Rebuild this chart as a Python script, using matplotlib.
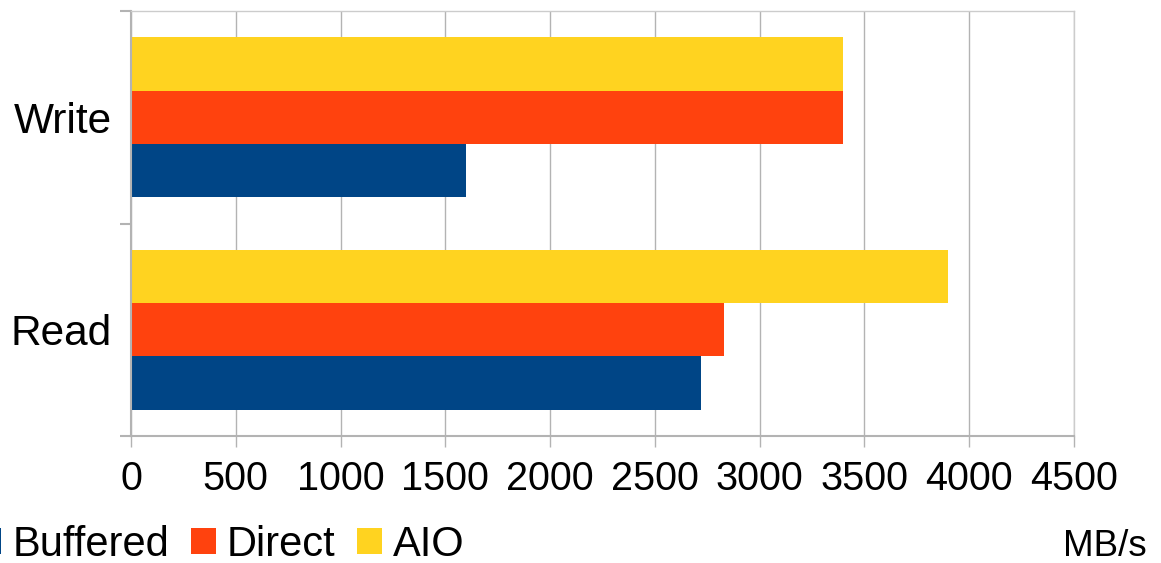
import matplotlib.pyplot as plt
from matplotlib.patches import Patch

plt.rcParams['font.family'] = ['Liberation Sans', 'DejaVu Sans']

# Throughput per access mode, MB/s
categories = ['Read', 'Write']
buffered = [2720, 1600]
direct = [2830, 3400]
aio = [3900, 3400]

series = ['Buffered', 'Direct', 'AIO']
colors = ['#004586', '#ff420e', '#ffd320']
xticks = [0, 500, 1000, 1500, 2000, 2500, 3000, 3500, 4000, 4500]

fig = plt.figure(figsize=(11.61, 5.63), dpi=100)
ax = fig.add_axes([131 / 1161, 1 - 436 / 563, 943 / 1161, 425 / 563])

h = 0.251
ypos = list(range(len(categories)))
for k, (vals, col) in enumerate(zip([buffered, direct, aio], colors)):
    off = (k - 1) * h
    ax.barh([y + off for y in ypos], vals, height=h, color=col, zorder=2)

ax.set_xlim(0, 4500)
ax.set_ylim(-0.5, 1.5)
ax.set_xticks(xticks)
ax.set_xticklabels([str(t) for t in xticks], fontsize=28.5)
ax.set_yticks(ypos)
ax.set_yticklabels(categories, fontsize=30.5)
ax.set_yticks([-0.5, 0.5, 1.5], minor=True)

ax.grid(axis='x', color='#b3b3b3', linewidth=1.0, zorder=0)
for s in ['left', 'bottom']:
    ax.spines[s].set_color('#b3b3b3')
    ax.spines[s].set_linewidth(1.5)
for s in ['top', 'right']:
    ax.spines[s].set_color('#cccccc')
    ax.spines[s].set_linewidth(1.0)

ax.tick_params(axis='x', length=8, width=1.0, color='#b3b3b3', pad=9)
ax.tick_params(axis='y', which='major', length=0, pad=13.7)
ax.tick_params(axis='y', which='minor', length=8, width=1.5, color='#b3b3b3')

handles = [Patch(facecolor=c, edgecolor='none', label=s) for s, c in zip(series, colors)]
fig.legend(handles=handles, loc='lower left', bbox_to_anchor=(-32 / 1161, -10 / 563),
           ncol=3, frameon=False, fontsize=30, handlelength=0.6, handleheight=0.6,
           handletextpad=0.26, columnspacing=0.52, borderpad=0.2, borderaxespad=0)

fig.text(1147 / 1161, 1 - 556 / 563, 'MB/s', fontsize=26.5, ha='right', va='baseline')

fig.savefig('out.png', dpi=100)
